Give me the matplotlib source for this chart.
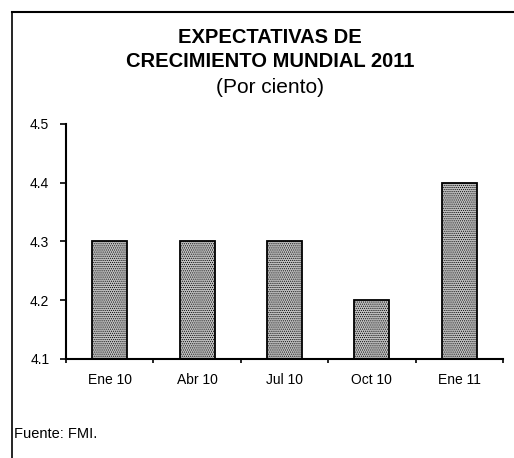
import matplotlib
matplotlib.use("Agg")
import matplotlib.pyplot as plt
from matplotlib.lines import Line2D
import numpy as np

plt.rcParams['font.family'] = ['Liberation Sans', 'DejaVu Sans']
plt.rcParams['hatch.color'] = '#8a8a8a'
plt.rcParams['hatch.linewidth'] = 0.5

# Expectativas de crecimiento mundial 2011 (por ciento)
categorias = ['Ene 10', 'Abr 10', 'Jul 10', 'Oct 10', 'Ene 11']
valores = [4.3, 4.3, 4.3, 4.2, 4.4]
yticks = [4.1, 4.2, 4.3, 4.4, 4.5]

fig = plt.figure(figsize=(5.14, 4.58), dpi=100)
ax = fig.add_axes([0.1284, 0.2162, 0.8502, 0.5131])

x = np.arange(len(categorias))
ax.bar(x, [v - 4.1 for v in valores], bottom=4.1, width=0.4,
       color='#c0c0c0', edgecolor='black', linewidth=1.3, hatch='........',
       zorder=2)

ax.set_ylim(4.1, 4.5)
ax.set_xlim(-0.5, len(categorias) - 0.5)
ax.set_yticks(yticks)
ax.set_yticklabels(['%.1f' % t for t in yticks], fontsize=10)
ax.set_xticks(x)
ax.set_xticklabels(categorias, fontsize=10)
ax.tick_params(axis='x', length=0, pad=10)
ax.set_xticks(np.arange(-0.5, len(categorias)), minor=True)
ax.tick_params(axis='x', which='minor', length=3, width=1.2, direction='out')
ax.tick_params(axis='y', length=4, width=1.2, direction='out', pad=8)

for s in ['top', 'right']:
    ax.spines[s].set_visible(False)
ax.spines['left'].set_linewidth(1.5)
ax.spines['bottom'].set_linewidth(1.5)

fig.text(0.525, 0.918, 'EXPECTATIVAS DE', ha='center', va='center',
         fontsize=14.5, fontweight='bold')
fig.text(0.525, 0.865, 'CRECIMIENTO MUNDIAL 2011', ha='center', va='center',
         fontsize=14.5, fontweight='bold')
fig.text(0.525, 0.808, '(Por ciento)', ha='center', va='center', fontsize=15)
fig.text(0.028, 0.052, 'Fuente: FMI.', ha='left', va='center', fontsize=10.5)

# marco de la figura
fig.add_artist(Line2D([12 / 514, 1.0], [1 - 12 / 458, 1 - 12 / 458],
                      transform=fig.transFigure, color='black', linewidth=1.5))
fig.add_artist(Line2D([12 / 514, 12 / 514], [0.0, 1 - 12 / 458],
                      transform=fig.transFigure, color='black', linewidth=1.2))

fig.savefig('out.png', dpi=100)
